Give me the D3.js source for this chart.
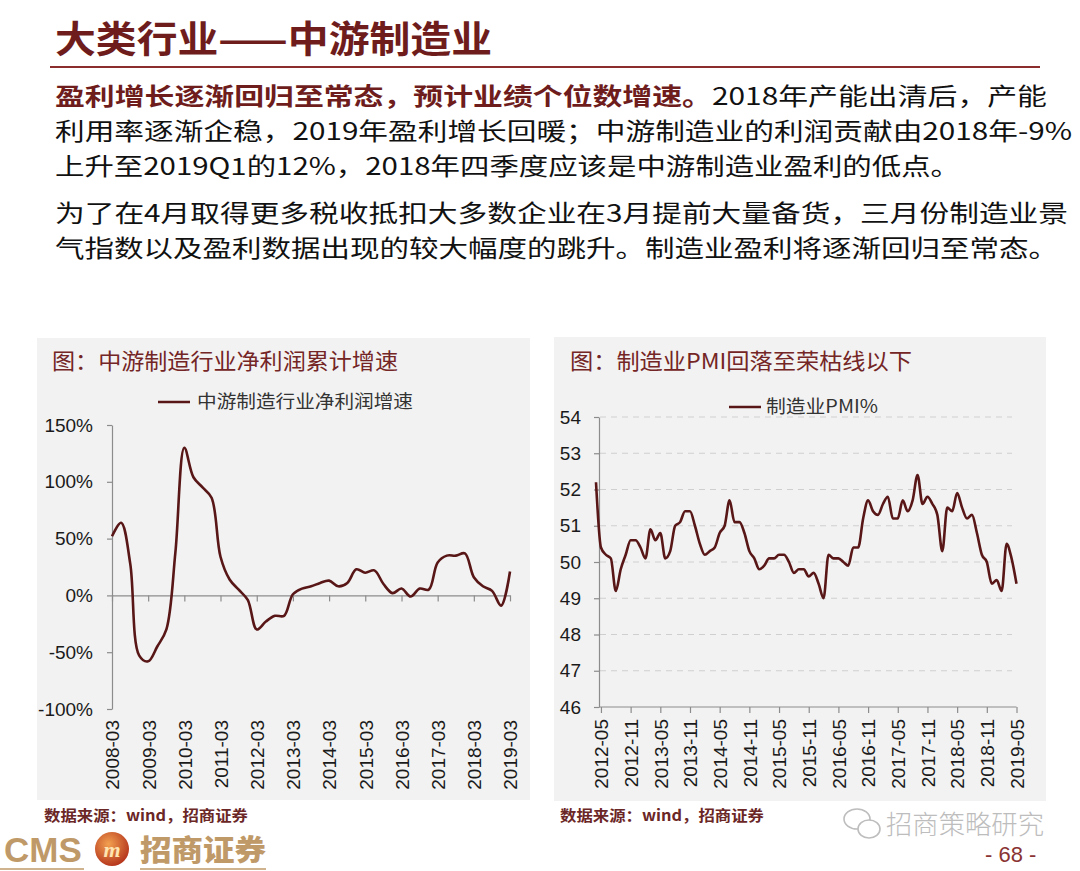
<!DOCTYPE html>
<html>
<head>
<meta charset="utf-8">
<script src="https://cdn.jsdelivr.net/npm/d3@7"></script>
<style>
  body { margin: 0; background: #fff; }
  svg { display: block; font-family: "Noto Sans CJK SC", "Noto Sans", sans-serif; }
</style>
</head>
<body>
<svg id="page" width="1080" height="871"></svg>
<script>
// ---- data ----
const profitDates = [
  "2008-03","2008-06","2008-09","2008-12","2009-03","2009-06","2009-09","2009-12",
  "2010-03","2010-06","2010-09","2010-12","2011-03","2011-06","2011-09","2011-12",
  "2012-03","2012-06","2012-09","2012-12","2013-03","2013-06","2013-09","2013-12",
  "2014-03","2014-06","2014-09","2014-12","2015-03","2015-06","2015-09","2015-12",
  "2016-03","2016-06","2016-09","2016-12","2017-03","2017-06","2017-09","2017-12",
  "2018-03","2018-06","2018-09","2018-12","2019-03"
];
const profitGrowth = [
  52, 64, 28, -53, -58, -45, -30, 38,
  130, 104, 95, 86, 34, 14, 5, -4,
  -30, -23, -18, -18, 1, 6, 8, 11,
  13, 8, 11, 23, 20, 22, 10, 2,
  6, -1, 6, 5, 29, 35, 35, 37,
  16, 8, 4, -9, 21
];
const profitTicks = ["2008-03","2009-03","2010-03","2011-03","2012-03","2013-03",
  "2014-03","2015-03","2016-03","2017-03","2018-03","2019-03"];
const profitYTicks = [-100, -50, 0, 50, 100, 150];

const pmiMonths = [
  "2012-04","2012-05","2012-06","2012-07","2012-08","2012-09","2012-10","2012-11","2012-12",
  "2013-01","2013-02","2013-03","2013-04","2013-05","2013-06","2013-07","2013-08","2013-09","2013-10","2013-11","2013-12",
  "2014-01","2014-02","2014-03","2014-04","2014-05","2014-06","2014-07","2014-08","2014-09","2014-10","2014-11","2014-12",
  "2015-01","2015-02","2015-03","2015-04","2015-05","2015-06","2015-07","2015-08","2015-09","2015-10","2015-11","2015-12",
  "2016-01","2016-02","2016-03","2016-04","2016-05","2016-06","2016-07","2016-08","2016-09","2016-10","2016-11","2016-12",
  "2017-01","2017-02","2017-03","2017-04","2017-05","2017-06","2017-07","2017-08","2017-09","2017-10","2017-11","2017-12",
  "2018-01","2018-02","2018-03","2018-04","2018-05","2018-06","2018-07","2018-08","2018-09","2018-10","2018-11","2018-12",
  "2019-01","2019-02","2019-03","2019-04","2019-05"
];
const pmiValues = [
  52.2, 50.4, 50.2, 50.1, 49.2, 49.8, 50.2, 50.6, 50.6,
  50.4, 50.1, 50.9, 50.6, 50.8, 50.1, 50.3, 51.0, 51.1, 51.4, 51.4, 51.0,
  50.5, 50.2, 50.3, 50.4, 50.8, 51.0, 51.7, 51.1, 51.1, 50.8, 50.3, 50.1,
  49.8, 49.9, 50.1, 50.1, 50.2, 50.2, 50.0, 49.7, 49.8, 49.8, 49.6, 49.7,
  49.4, 49.0, 50.2, 50.1, 50.1, 50.0, 49.9, 50.4, 50.4, 51.2, 51.7, 51.4,
  51.3, 51.6, 51.8, 51.2, 51.2, 51.7, 51.4, 51.7, 52.4, 51.6, 51.8, 51.6,
  51.3, 50.3, 51.5, 51.4, 51.9, 51.5, 51.2, 51.3, 50.8, 50.2, 50.0, 49.4,
  49.5, 49.2, 50.5, 50.1, 49.4
];
const pmiTicks = ["2012-05","2012-11","2013-05","2013-11","2014-05","2014-11","2015-05",
  "2015-11","2016-05","2016-11","2017-05","2017-11","2018-05","2018-11","2019-05"];
const pmiYTicks = [46, 47, 48, 49, 50, 51, 52, 53, 54];

const lineColor = "#581616";
const svg = d3.select("#page");

// ---- page header ----
svg.append("text")
  .attr("x", 55).attr("y", 53)
  .attr("font-size", 37).attr("font-weight", 700)
  .attr("fill", "#6e1c1c")
  .attr("textLength", 437).attr("lengthAdjust", "spacingAndGlyphs")
  .text("大类行业——中游制造业");

svg.append("line")
  .attr("x1", 50).attr("x2", 1040).attr("y1", 67).attr("y2", 67)
  .attr("stroke", "#8b2d2d").attr("stroke-width", 2);

// body paragraph lines: [text, bold?] parts
const bodyLines = [
  { y: 105, len: 992, parts: [["盈利增长逐渐回归至常态，预计业绩个位数增速。", true], ["2018年产能出清后，产能", false]] },
  { y: 140, len: 1017, parts: [["利用率逐渐企稳，2019年盈利增长回暖；中游制造业的利润贡献由2018年-9%", false]] },
  { y: 175, len: 905, parts: [["上升至2019Q1的12%，2018年四季度应该是中游制造业盈利的低点。", false]] },
  { y: 222, len: 1013, parts: [["为了在4月取得更多税收抵扣大多数企业在3月提前大量备货，三月份制造业景", false]] },
  { y: 257, len: 1003, parts: [["气指数以及盈利数据出现的较大幅度的跳升。制造业盈利将逐渐回归至常态。", false]] }
];
bodyLines.forEach(l => {
  const t = svg.append("text")
    .attr("x", 55).attr("y", l.y)
    .attr("font-size", 24)
    .attr("fill", "#111")
    .attr("textLength", l.len).attr("lengthAdjust", "spacingAndGlyphs");
  l.parts.forEach(p => {
    t.append("tspan")
      .attr("font-weight", p[1] ? 700 : 400)
      .attr("fill", p[1] ? "#6e1c1c" : "#111")
      .text(p[0]);
  });
});

// ---- panels ----
svg.append("rect").attr("x", 37).attr("y", 338).attr("width", 493).attr("height", 462).attr("fill", "#f2f2f2");
svg.append("rect").attr("x", 554).attr("y", 337).attr("width", 492).attr("height", 464).attr("fill", "#f2f2f2");

function panelTitle(x, text, len) {
  svg.append("text")
    .attr("x", x).attr("y", 369)
    .attr("font-size", 22).attr("fill", "#742525")
    .attr("textLength", len).attr("lengthAdjust", "spacingAndGlyphs")
    .text(text);
}
panelTitle(52, "图：中游制造行业净利润累计增速", 346);
panelTitle(570, "图：制造业PMI回落至荣枯线以下", 342);

function legend(x1, y, textX, text, len) {
  svg.append("line")
    .attr("x1", x1).attr("x2", x1 + 32).attr("y1", y).attr("y2", y)
    .attr("stroke", lineColor).attr("stroke-width", 2.5);
  svg.append("text")
    .attr("x", textX).attr("y", y + 6)
    .attr("font-size", 18).attr("fill", "#333")
    .attr("textLength", len).attr("lengthAdjust", "spacingAndGlyphs")
    .text(text);
}
legend(158, 402, 197, "中游制造行业净利润增速", 216);
legend(729, 407, 766, "制造业PMI%", 112);

function styleAxis(g) {
  g.select(".domain").attr("stroke", "#8c8c8c").attr("stroke-width", 1.2);
  g.selectAll(".tick line").attr("stroke", "#8c8c8c").attr("stroke-width", 1.2);
  g.selectAll(".tick text")
    .attr("font-family", "'Liberation Sans', Arial, sans-serif")
    .attr("font-size", 19).attr("fill", "#1a1a1a");
}

// ---- left chart: profit growth ----
const parseMonth = d3.timeParse("%Y-%m");
const xL = d3.scaleTime()
  .domain([parseMonth(profitDates[0]), parseMonth(profitDates[profitDates.length - 1])])
  .range([112, 510]);
const yL = d3.scaleLinear().domain([-100, 150]).range([709, 425]);

svg.append("g")
  .attr("transform", "translate(112,0)")
  .call(d3.axisLeft(yL).tickValues(profitYTicks).tickSize(5).tickPadding(14)
    .tickFormat(d => d + "%").tickSizeOuter(0))
  .call(styleAxis);

svg.append("g")
  .attr("transform", `translate(0,${yL(0)})`)
  .call(d3.axisBottom(xL).tickValues(profitTicks.map(parseMonth)).tickSize(6)
    .tickFormat("").tickSizeOuter(0))
  .call(styleAxis);

const xLabelsL = svg.append("g")
  .attr("transform", "translate(0,720)")
  .call(d3.axisBottom(xL).tickValues(profitTicks.map(parseMonth)).tickSize(0)
    .tickFormat(d3.timeFormat("%Y-%m")))
  .call(styleAxis);
xLabelsL.select(".domain").remove();
xLabelsL.selectAll(".tick text")
  .attr("transform", "rotate(-90)")
  .attr("text-anchor", "end")
  .attr("x", 0).attr("y", 0).attr("dy", "0.36em");

svg.append("path")
  .datum(profitDates.map((d, i) => [parseMonth(d), profitGrowth[i]]))
  .attr("fill", "none")
  .attr("stroke", lineColor).attr("stroke-width", 2.6)
  .attr("stroke-linejoin", "round")
  .attr("d", d3.line().x(d => xL(d[0])).y(d => yL(d[1])).curve(d3.curveCatmullRom.alpha(0.5)));

// ---- right chart: PMI ----
const xR = d3.scalePoint().domain(pmiMonths).range([596, 1016.5]);
const yR = d3.scaleLinear().domain([46, 54]).range([707, 417]);

svg.append("g")
  .selectAll("line")
  .data(pmiYTicks.slice(1))
  .join("line")
  .attr("x1", 600).attr("x2", 1012)
  .attr("y1", d => yR(d)).attr("y2", d => yR(d))
  .attr("stroke", "#cfcfcf").attr("stroke-width", 1.2)
  .attr("stroke-dasharray", "6,5");

svg.append("g")
  .attr("transform", "translate(599,0)")
  .call(d3.axisLeft(yR).tickValues(pmiYTicks).tickSize(5).tickPadding(13).tickSizeOuter(0))
  .call(styleAxis);

const xAxisR = svg.append("g")
  .attr("transform", `translate(0,${yR(46)})`)
  .call(d3.axisBottom(xR).tickValues(pmiTicks).tickSize(6).tickFormat("").tickSizeOuter(0))
  .call(styleAxis);
xAxisR.select(".domain").attr("d", `M599,0H${xR("2019-05")}`);

const xLabelsR = svg.append("g")
  .attr("transform", "translate(0,719)")
  .call(d3.axisBottom(xR).tickValues(pmiTicks).tickSize(0))
  .call(styleAxis);
xLabelsR.select(".domain").remove();
xLabelsR.selectAll(".tick text")
  .attr("transform", "rotate(-90)")
  .attr("text-anchor", "end")
  .attr("x", 0).attr("y", 0).attr("dy", "0.36em");

svg.append("path")
  .datum(pmiMonths.map((m, i) => [m, pmiValues[i]]))
  .attr("fill", "none")
  .attr("stroke", lineColor).attr("stroke-width", 2.6)
  .attr("stroke-linejoin", "round")
  .attr("d", d3.line().x(d => xR(d[0])).y(d => yR(d[1])).curve(d3.curveMonotoneX));

// ---- sources & footer ----
function source(x) {
  svg.append("text")
    .attr("x", x).attr("y", 821)
    .attr("font-size", 15).attr("font-weight", 700).attr("fill", "#6b2626")
    .attr("textLength", 204).attr("lengthAdjust", "spacingAndGlyphs")
    .text("数据来源：wind，招商证券");
}
source(44);
source(560);

// logo
svg.append("text")
  .attr("x", 4).attr("y", 862)
  .attr("font-family", "'Liberation Sans', Arial, sans-serif")
  .attr("font-size", 35).attr("font-weight", 700).attr("fill", "#bf9a68")
  .text("CMS");
const grad = svg.append("defs").append("radialGradient").attr("id", "logoGrad")
  .attr("cx", "40%").attr("cy", "35%").attr("r", "70%");
grad.append("stop").attr("offset", "0%").attr("stop-color", "#f2a050");
grad.append("stop").attr("offset", "100%").attr("stop-color", "#b2301a");
svg.append("circle").attr("cx", 112).attr("cy", 849).attr("r", 17).attr("fill", "url(#logoGrad)");
svg.append("text")
  .attr("x", 112).attr("y", 857).attr("text-anchor", "middle")
  .attr("font-family", "'Liberation Serif', serif")
  .attr("font-size", 22).attr("font-weight", 700).attr("font-style", "italic")
  .attr("fill", "#ffe3b0")
  .text("m");
svg.append("text")
  .attr("x", 140).attr("y", 861)
  .attr("font-size", 29).attr("font-weight", 900).attr("fill", "#bf9a68")
  .attr("textLength", 126).attr("lengthAdjust", "spacingAndGlyphs")
  .text("招商证券");
svg.append("line").attr("x1", 0).attr("x2", 84).attr("y1", 869).attr("y2", 869)
  .attr("stroke", "#bf9a68").attr("stroke-width", 1.5);
svg.append("line").attr("x1", 140).attr("x2", 266).attr("y1", 869).attr("y2", 869)
  .attr("stroke", "#bf9a68").attr("stroke-width", 1.5);

// wechat watermark
const wc = svg.append("g").attr("fill", "none").attr("stroke", "#bdbdbd").attr("stroke-width", 1.6);
wc.append("ellipse").attr("cx", 857).attr("cy", 819).attr("rx", 13).attr("ry", 10);
wc.append("ellipse").attr("cx", 869).attr("cy", 829).attr("rx", 11).attr("ry", 9).attr("fill", "#fff");
svg.append("text")
  .attr("x", 886).attr("y", 834)
  .attr("font-size", 26).attr("font-weight", 300).attr("fill", "#bdbdbd")
  .attr("textLength", 158).attr("lengthAdjust", "spacingAndGlyphs")
  .text("招商策略研究");

svg.append("text")
  .attr("x", 985).attr("y", 862)
  .attr("font-family", "'Liberation Sans', Arial, sans-serif")
  .attr("font-size", 22).attr("fill", "#8a3333")
  .text("- 68 -");
</script>
</body>
</html>
